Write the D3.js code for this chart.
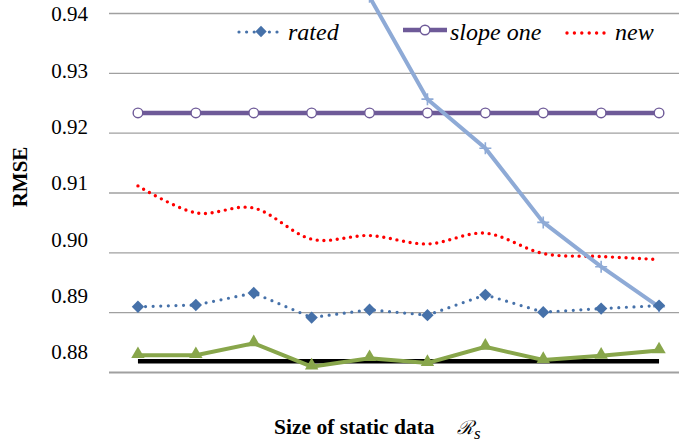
<!DOCTYPE html>
<html>
<head>
<meta charset="utf-8">
<script src="https://cdn.jsdelivr.net/npm/d3@7"></script>
<style>
  body { margin: 0; background: #fff; }
  svg text { font-family: "Liberation Serif", "Times New Roman", serif; }
</style>
</head>
<body>
<div id="chart"></div>
<script>
// static data sizes (no labels shown on the x axis)
const sizes = ['1', '2', '3', '4', '5', '6', '7', '8', '9', '10'];
const yTicks = [0.88, 0.89, 0.90, 0.91, 0.92, 0.93, 0.94];

const rated    = [0.8909, 0.8912, 0.8932, 0.8891, 0.8904, 0.8895, 0.8929, 0.8900, 0.8906, 0.8911];
const slopeOne = [0.9233, 0.9233, 0.9233, 0.9233, 0.9233, 0.9233, 0.9233, 0.9233, 0.9233, 0.9233];
const newer    = [0.9111, 0.9066, 0.9074, 0.9022, 0.9028, 0.9014, 0.9032, 0.8998, 0.8993, 0.8988];
const baseline = [0.9850, 0.9720, 0.9630, 0.9520, 0.9427, 0.9256, 0.9174, 0.9050, 0.8976, 0.8909];
const combined = [0.8828, 0.8828, 0.8848, 0.8809, 0.8823, 0.8815, 0.8842, 0.8820, 0.8827, 0.8836];
const lowest   = [0.8818, 0.8818, 0.8818, 0.8818, 0.8818, 0.8818, 0.8818, 0.8818, 0.8818, 0.8818];

const width = 679, height = 442;
const margin = { left: 109, right: -9, top: 13, bottom: 70 };
const serif = '"Liberation Serif", "Times New Roman", serif';

const svg = d3.select('#chart').append('svg')
  .attr('width', width)
  .attr('height', height);

svg.append('rect').attr('width', width).attr('height', height).attr('fill', '#fff');

const x = d3.scaleBand()
  .domain(sizes)
  .range([margin.left, width - margin.right]);

const y = d3.scaleLinear()
  .domain([0.88, 0.94])
  .range([height - margin.bottom, margin.top]);

// the tick labels sit on their own slightly compressed scale in the original
const yLabel = d3.scaleLinear()
  .domain([0.88, 0.94])
  .range([352, 14]);

const cx = (d, i) => x(sizes[i]) + x.bandwidth() / 2;

// gridlines
svg.append('g')
  .attr('transform', `translate(${margin.left},0)`)
  .call(d3.axisLeft(y).tickValues(yTicks).tickSize(-(width - margin.left)).tickFormat(''))
  .call(g => g.select('.domain').remove())
  .call(g => g.selectAll('.tick line')
    .attr('stroke', '#a0a0a0')
    .attr('stroke-width', d => d === 0.88 ? 2.2 : 1.4));

// tick labels
svg.append('g')
  .attr('transform', `translate(88,0)`)
  .call(d3.axisLeft(yLabel).tickValues(yTicks).tickSize(0).tickPadding(0).tickFormat(d3.format('.2f')))
  .call(g => g.select('.domain').remove())
  .call(g => g.selectAll('text')
    .style('font-family', serif)
    .style('font-size', '21px')
    .attr('fill', '#000'));

// y title
svg.append('text')
  .attr('transform', 'translate(27,177) rotate(-90)')
  .attr('text-anchor', 'middle')
  .style('font-size', '21px')
  .style('font-weight', 'bold')
  .text('RMSE');

// x title
const xt = svg.append('text')
  .attr('x', 274)
  .attr('y', 434)
  .style('font-size', '21.5px')
  .style('font-weight', 'bold');
xt.append('tspan').text('Size of static data');
xt.append('tspan')
  .attr('x', 457)
  .style('font-weight', 'normal')
  .style('font-style', 'italic')
  .style('font-family', '"DejaVu Serif", serif')
  .style('font-size', '19px')
  .text('ℛ');
xt.append('tspan')
  .attr('dy', 5)
  .style('font-weight', 'normal')
  .style('font-style', 'italic')
  .style('font-size', '17px')
  .text('s');

const line = d3.line().x(cx).y(d => y(d));
const smooth = d3.line().x(cx).y(d => y(d)).curve(d3.curveCardinal.tension(0));

// black reference line
svg.append('path')
  .attr('d', line(lowest))
  .attr('fill', 'none')
  .attr('stroke', '#000')
  .attr('stroke-width', 4.5);

// green triangles
svg.append('path')
  .attr('d', line(combined))
  .attr('fill', 'none')
  .attr('stroke', '#88a64b')
  .attr('stroke-width', 4);
svg.append('g').selectAll('path')
  .data(combined)
  .join('path')
  .attr('d', d3.symbol(d3.symbolTriangle, 78))
  .attr('transform', (d, i) => `translate(${cx(d, i)},${y(d) - 1})`)
  .attr('fill', '#88a64b');

// slope one
svg.append('path')
  .attr('d', line(slopeOne))
  .attr('fill', 'none')
  .attr('stroke', '#6e5a98')
  .attr('stroke-width', 4.5);
svg.append('g').selectAll('circle')
  .data(slopeOne)
  .join('circle')
  .attr('cx', cx)
  .attr('cy', d => y(d))
  .attr('r', 4.8)
  .attr('fill', '#fff')
  .attr('stroke', '#6e5a98')
  .attr('stroke-width', 1.4);

// new (smoothed red dots)
svg.append('path')
  .attr('d', smooth(newer))
  .attr('fill', 'none')
  .attr('stroke', '#ff0000')
  .attr('stroke-width', 3.4)
  .attr('stroke-linecap', 'round')
  .attr('stroke-dasharray', '0 6.7');

// light blue with plus markers
svg.append('path')
  .attr('d', line(baseline))
  .attr('fill', 'none')
  .attr('stroke', '#8eaad6')
  .attr('stroke-width', 4);
svg.append('g').selectAll('path')
  .data(baseline)
  .join('path')
  .attr('d', 'M-6,0H6M0,-6V6')
  .attr('transform', (d, i) => `translate(${cx(d, i)},${y(d)})`)
  .attr('stroke', '#8eaad6')
  .attr('stroke-width', 1.6);

// rated (blue dotted + diamonds)
svg.append('path')
  .attr('d', line(rated))
  .attr('fill', 'none')
  .attr('stroke', '#4671a9')
  .attr('stroke-width', 3.2)
  .attr('stroke-linecap', 'round')
  .attr('stroke-dasharray', '0 7.6');
svg.append('g').selectAll('path')
  .data(rated)
  .join('path')
  .attr('d', d3.symbol(d3.symbolSquare, 76))
  .attr('transform', (d, i) => `translate(${cx(d, i)},${y(d)}) rotate(45)`)
  .attr('fill', '#4671a9');

// legend
const legend = svg.append('g');
const legendText = (xPos, label) => legend.append('text')
  .attr('x', xPos).attr('y', 40)
  .style('font-style', 'italic')
  .style('font-size', '24px')
  .text(label);

legend.append('line')
  .attr('x1', 239).attr('x2', 279).attr('y1', 32).attr('y2', 32)
  .attr('stroke', '#4671a9').attr('stroke-width', 3.2)
  .attr('stroke-linecap', 'round').attr('stroke-dasharray', '0 7.6');
legend.append('path')
  .attr('d', d3.symbol(d3.symbolSquare, 64))
  .attr('transform', 'translate(261,31.5) rotate(45)')
  .attr('fill', '#4671a9');
legendText(288, 'rated');

legend.append('line')
  .attr('x1', 403).attr('x2', 447).attr('y1', 30).attr('y2', 30)
  .attr('stroke', '#6e5a98').attr('stroke-width', 4.5);
legend.append('circle')
  .attr('cx', 425).attr('cy', 30).attr('r', 4.8)
  .attr('fill', '#fff').attr('stroke', '#6e5a98').attr('stroke-width', 1.4);
legendText(450, 'slope one');

legend.append('line')
  .attr('x1', 567).attr('x2', 605).attr('y1', 33).attr('y2', 33)
  .attr('stroke', '#ff0000').attr('stroke-width', 3.4)
  .attr('stroke-linecap', 'round').attr('stroke-dasharray', '0 7.4');
legendText(615, 'new');
</script>
</body>
</html>
